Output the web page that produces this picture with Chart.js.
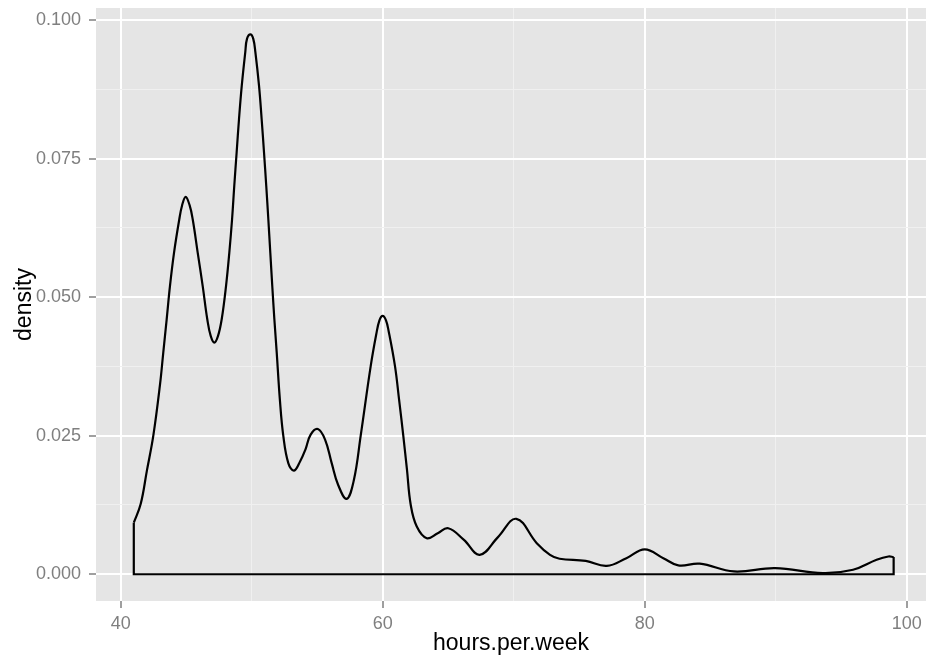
<!DOCTYPE html>
<html>
<head>
<meta charset="utf-8">
<script src="https://cdn.jsdelivr.net/npm/chart.js@4.4.1/dist/chart.umd.min.js"></script>
<style>
    html, body { margin: 0; padding: 0; background: #fff; }
    #wrap { width: 926px; height: 658px; position: relative; }
</style>
</head>
<body>
<div id="wrap"><canvas id="densityGraph"></canvas></div>
<script>
// density curve
const hours = [41.0, 41.53, 42.0, 42.49, 43.0, 43.25, 43.51, 43.76, 44.07, 44.47, 44.68, 44.96, 45.27, 45.5, 45.88, 46.26,
    46.61, 46.87, 47.15, 47.43, 47.71, 48.04, 48.29, 48.5, 48.67, 48.85, 49.03, 49.24, 49.51, 49.64, 49.9, 50.12, 50.28,
    50.56, 50.76, 50.94, 51.11, 51.27, 51.42, 51.57, 51.73, 51.91, 52.15, 52.41, 52.8, 53.23, 53.7, 54.1, 54.5, 55.05,
    55.6, 56.1, 56.6, 57.25, 57.8, 58.32, 59.08, 59.5, 59.75, 60.0, 60.25, 60.45, 60.94, 61.25, 61.57, 61.85, 62.14,
    62.6, 63.36, 64.2, 65.0, 66.2, 67.4, 68.8, 70.2, 71.76, 72.77, 73.5, 75.5, 77.1, 78.6, 80.0, 81.42, 82.56, 84.2,
    86.8, 89.95, 93.6, 95.9, 97.7, 98.6, 99.0];
const density = [0.0093, 0.0127, 0.0187, 0.025, 0.0342, 0.040, 0.046, 0.052, 0.058, 0.064, 0.0665, 0.0681, 0.0665, 0.064, 0.058, 0.052,
    0.046, 0.0430, 0.0418, 0.0430, 0.046, 0.052, 0.058, 0.064, 0.0701, 0.0761, 0.0821, 0.0881, 0.0942, 0.0966, 0.0974, 0.0966, 0.0942,
    0.0881, 0.0821, 0.0761, 0.0701, 0.064, 0.058, 0.052, 0.046, 0.040, 0.0315, 0.025, 0.0200, 0.0187, 0.0204, 0.0225, 0.0252, 0.0262,
    0.0243, 0.0201, 0.0161, 0.0136, 0.0170, 0.025, 0.0375, 0.0432, 0.0458, 0.0466, 0.0458, 0.0439, 0.0375, 0.0315, 0.025, 0.0189, 0.0125,
    0.0086, 0.0065, 0.0074, 0.0083, 0.0062, 0.0035, 0.0067, 0.0100, 0.0056, 0.0035, 0.0028, 0.0024, 0.0015, 0.0029, 0.0045, 0.0029, 0.0016, 0.0019,
    0.0005, 0.0011, 0.0002, 0.0008, 0.0026, 0.0032, 0.0031];

const xMajor = [40, 60, 80, 100];
const xMinor = [50, 70, 90];
const yMajor = [0, 0.025, 0.05, 0.075, 0.1];
const yMinor = [0.0125, 0.0375, 0.0625, 0.0875];

const fontFam = '"Liberation Sans", Arial, sans-serif';

const panelBg = {
    id: 'panelBg',
    beforeDraw(chart) {
        const {ctx, chartArea: a} = chart;
        ctx.save();
        ctx.fillStyle = '#E5E5E5';
        ctx.fillRect(a.left, a.top, a.right - a.left, a.bottom - a.top);
        ctx.restore();
    }
};

function gridOpts(major) {
    return {
        color: (c) => c.tick && major.includes(c.tick.value) ? '#FFFFFF' : '#F0F0F0',
        lineWidth: (c) => c.tick && major.includes(c.tick.value) ? 2 : 1,
        tickColor: (c) => c.tick && major.includes(c.tick.value) ? '#7F7F7F' : 'rgba(0,0,0,0)',
        tickWidth: 1.5,
        tickLength: 7,
        drawTicks: true
    };
}

const curve = hours.map((h, i) => ({x: h, y: density[i]}));
const first = curve[0];
const last = curve[curve.length - 1];
const outline = [first, {x: first.x, y: 0}, {x: last.x, y: 0}, last];

const canv = document.getElementById('densityGraph').getContext('2d');
const graph = new Chart(canv, {
    type: 'line',
    data: {
        datasets: [{
            data: curve,
            borderColor: '#000000',
            borderWidth: 2.2,
            pointRadius: 0,
            fill: false,
            tension: 0.4
        }, {
            data: outline,
            borderColor: '#000000',
            borderWidth: 2.2,
            pointRadius: 0,
            fill: false,
            tension: 0
        }]
    },
    options: {
        responsive: true,
        maintainAspectRatio: false,
        animation: false,
        layout: {
            padding: {top: 8, left: 0, right: 0, bottom: 0}
        },
        plugins: {
            legend: {display: false},
            tooltip: {enabled: false}
        },
        scales: {
            x: {
                type: 'linear',
                min: 38.115,
                max: 101.47,
                border: {display: false},
                grid: gridOpts(xMajor),
                afterBuildTicks: (s) => {
                    s.ticks = xMajor.concat(xMinor).sort((a, b) => a - b).map(v => ({value: v}));
                },
                afterFit: (s) => {
                    s.height = 57;
                    s.paddingLeft = 0;
                    s.paddingRight = 0;
                },
                ticks: {
                    padding: 5,
                    maxRotation: 0,
                    autoSkip: false,
                    color: '#7F7F7F',
                    font: {family: fontFam, size: 18},
                    callback: (v) => xMajor.includes(v) ? String(v) : ''
                },
                title: {
                    display: true,
                    text: 'hours.per.week',
                    color: '#000000',
                    font: {family: fontFam, size: 23, lineHeight: 1.2},
                    padding: {top: 0, bottom: 1}
                }
            },
            y: {
                type: 'linear',
                min: -0.00483,
                max: 0.10217,
                border: {display: false},
                grid: gridOpts(yMajor),
                afterBuildTicks: (s) => {
                    s.ticks = yMajor.concat(yMinor).sort((a, b) => a - b).map(v => ({value: v}));
                },
                afterFit: (s) => {
                    s.width = 96;
                    s.paddingTop = 0;
                    s.paddingBottom = 0;
                },
                ticks: {
                    padding: 8,
                    autoSkip: false,
                    color: '#7F7F7F',
                    font: {family: fontFam, size: 18},
                    callback: (v) => yMajor.includes(v) ? v.toFixed(3) : ''
                },
                title: {
                    display: true,
                    text: 'density',
                    color: '#000000',
                    font: {family: fontFam, size: 23, lineHeight: 1.2},
                    padding: {top: 11, bottom: 0}
                }
            }
        }
    },
    plugins: [panelBg]
});
</script>
</body>
</html>
